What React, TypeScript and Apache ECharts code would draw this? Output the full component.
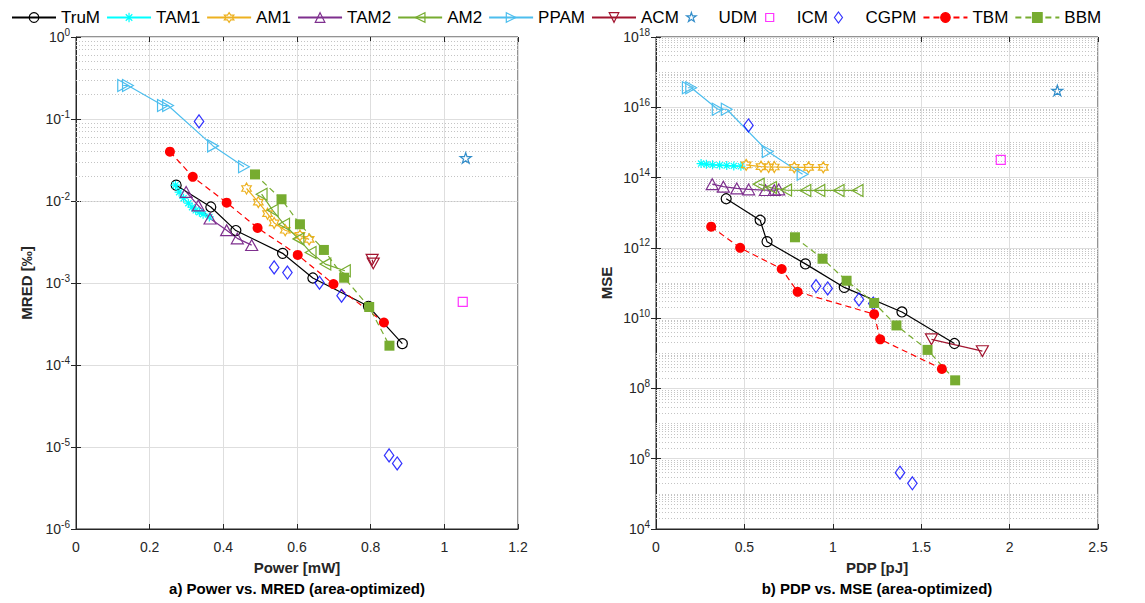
import React, { useEffect, useRef } from 'react';
import * as echarts from 'echarts';

const FONT = '"Liberation Sans", Arial, Helvetica, sans-serif';

// ---------- data: a) Power [mW] vs. MRED [‰] ----------
const trumA = [[0.272, 0.0156], [0.366, 0.00845], [0.434, 0.00436], [0.561, 0.0023], [0.643, 0.00115], [0.794, 0.00052], [0.886, 0.000182]];
const tam1A = [[0.270, 0.0156], [0.280, 0.0128], [0.292, 0.0108], [0.305, 0.0094], [0.315, 0.0084], [0.325, 0.0077], [0.335, 0.0073], [0.345, 0.0069], [0.362, 0.0064]];
const am1A = [[0.463, 0.0142], [0.495, 0.0097], [0.520, 0.0070], [0.538, 0.0054], [0.568, 0.0044], [0.608, 0.0038], [0.633, 0.0034]];
const tam2A = [[0.299, 0.0129], [0.332, 0.0088], [0.364, 0.0061], [0.409, 0.0044], [0.438, 0.0035], [0.477, 0.0029]];
const am2A = [[0.504, 0.0121], [0.534, 0.0077], [0.565, 0.0052], [0.604, 0.00345], [0.637, 0.00236], [0.677, 0.0017], [0.730, 0.00141]];
const ppamA = [[0.128, 0.256], [0.141, 0.256], [0.236, 0.146], [0.250, 0.146], [0.372, 0.047], [0.456, 0.0262]];
const acmA = [[0.804, 0.00192], [0.807, 0.00173]];
const udmA = [[1.058, 0.0335]];
const icmA = [[1.05, 0.00059]];
const cgpmA = [[0.334, 0.0935], [0.538, 0.00155], [0.574, 0.00134], [0.661, 0.00101], [0.721, 0.0007], [0.850, 7.9e-6], [0.872, 6.3e-6]];
const tbmA = [[0.255, 0.040], [0.317, 0.0197], [0.409, 0.00955], [0.493, 0.0047], [0.602, 0.0022], [0.699, 0.00097], [0.836, 0.00033]];
const bbmA = [[0.486, 0.0211], [0.558, 0.0105], [0.608, 0.0052], [0.673, 0.00253], [0.728, 0.00116], [0.796, 0.00051], [0.851, 0.000172]];

// ---------- data: b) PDP [pJ] vs. MSE ----------
const trumB = [[0.397, 2.5e13], [0.589, 6.1e12], [0.628, 1.5e12], [0.845, 3.5e11], [1.065, 7.5e10], [1.391, 1.5e10], [1.688, 1.9e9]];
const tam1B = [[0.255, 2.5e14], [0.285, 2.4e14], [0.320, 2.3e14], [0.360, 2.25e14], [0.400, 2.2e14], [0.440, 2.15e14], [0.480, 2.1e14]];
const am1B = [[0.51, 2.3e14], [0.594, 2.05e14], [0.637, 2.0e14], [0.669, 2.0e14], [0.782, 1.95e14], [0.863, 1.95e14], [0.946, 1.95e14]];
const tam2B = [[0.318, 6.5e13], [0.381, 5.5e13], [0.457, 4.9e13], [0.524, 4.6e13], [0.619, 4.4e13], [0.669, 4.4e13], [0.694, 4.6e13]];
const am2B = [[0.581, 6.5e13], [0.651, 5.2e13], [0.736, 4.4e13], [0.845, 4.3e13], [0.924, 4.3e13], [1.033, 4.3e13], [1.14, 4.3e13]];
const ppamB = [[0.18, 3.6e16], [0.199, 3.6e16], [0.349, 8.8e15], [0.40, 8.8e15], [0.632, 5.5e14], [0.829, 1.25e14]];
const acmB = [[1.558, 2.5e9], [1.846, 1.15e9]];
const udmB = [[2.27, 3.0e16]];
const icmB = [[1.95, 3.2e14]];
const cgpmB = [[0.523, 3.05e15], [0.905, 8.2e10], [0.971, 7.0e10], [1.148, 3.4e10], [1.229, 2.6e10], [1.38, 4e5], [1.45, 2e5]];
const tbmB = [[0.312, 4e12], [0.476, 1e12], [0.711, 2.5e11], [0.801, 5.6e10], [1.234, 1.3e10], [1.268, 2.5e9], [1.617, 3.6e8]];
const bbmB = [[0.786, 2e12], [0.942, 4.9e11], [1.078, 1.16e11], [1.234, 2.7e10], [1.36, 6.2e9], [1.536, 1.25e9], [1.692, 1.7e8]];

const methodNames = ['TruM', 'TAM1', 'AM1', 'TAM2', 'AM2', 'PPAM', 'ACM', 'UDM', 'ICM', 'CGPM', 'TBM', 'BBM'];
const dataA = [trumA, tam1A, am1A, tam2A, am2A, ppamA, acmA, udmA, icmA, cgpmA, tbmA, bbmA];
const dataB = [trumB, tam1B, am1B, tam2B, am2B, ppamB, acmB, udmB, icmB, cgpmB, tbmB, bbmB];

// ---------- marker shapes ----------
const ASTER = 'path://M5,0L5,10M0,5L10,5M1.6,1.6L8.4,8.4M8.4,1.6L1.6,8.4';
const HEXA = 'path://M5,0L6.443,2.5L9.33,2.5L7.887,5L9.33,7.5L6.443,7.5L5,10L3.557,7.5L0.67,7.5L2.113,5L0.67,2.5L3.557,2.5Z';
const TRI_U = 'path://M5,0L10,9L0,9Z';
const TRI_L = 'path://M0,5L9,0L9,10Z';
const TRI_R = 'path://M9,5L0,0L0,10Z';
const TRI_D = 'path://M0,0L10,0L5,9Z';
const PENTA_D = 'M5,0L6.123,3.455L9.755,3.455L6.817,5.59L7.939,9.045L5,6.91L2.061,9.045L3.183,5.59L0.245,3.455L3.877,3.455Z';
const SQUARE_D = 'M0,0L10,0L10,10L0,10Z';
const DIAMOND_D = 'M4,0L8,5.5L4,11L0,5.5Z';
const PENTA = 'path://' + PENTA_D;
const SQUARE = 'path://' + SQUARE_D;
const DIAMOND = 'path://' + DIAMOND_D;
// legend icons for marker-only entries (padded so they do not fill the icon box)
const legendIcons: Record<string, string> = {
  UDM: 'path://M-1,-1M11,11' + PENTA_D,
  ICM: 'path://M-2.5,-2.5M12.5,12.5' + SQUARE_D,
  CGPM: 'path://M4,-0.5M4,11.5' + DIAMOND_D,
};

type Sty = { color: string; symbol: string; size: number; fill: boolean; line: null | 'solid' | 'dashed' };
const STY: Record<string, Sty> = {
  TruM: { color: '#000000', symbol: 'circle', size: 10, fill: false, line: 'solid' },
  TAM1: { color: '#00FFFF', symbol: ASTER, size: 9, fill: false, line: 'solid' },
  AM1: { color: '#EDB120', symbol: HEXA, size: 11, fill: false, line: 'solid' },
  TAM2: { color: '#7E2F8E', symbol: TRI_U, size: 12, fill: false, line: 'solid' },
  AM2: { color: '#77AC30', symbol: TRI_L, size: 12, fill: false, line: 'solid' },
  PPAM: { color: '#4DBEEE', symbol: TRI_R, size: 12, fill: false, line: 'solid' },
  ACM: { color: '#A2142F', symbol: TRI_D, size: 12, fill: false, line: 'solid' },
  UDM: { color: '#0072BD', symbol: PENTA, size: 11, fill: false, line: null },
  ICM: { color: '#FF00FF', symbol: SQUARE, size: 9, fill: false, line: null },
  CGPM: { color: '#0000FF', symbol: DIAMOND, size: 13, fill: false, line: null },
  TBM: { color: '#FF0000', symbol: 'circle', size: 10, fill: true, line: 'dashed' },
  BBM: { color: '#77AC30', symbol: SQUARE, size: 10, fill: true, line: 'dashed' },
};

// minor log grid values
const minorA: number[] = [];
for (let e = -6; e < 0; e++) for (let k = 2; k <= 9; k++) minorA.push(k * Math.pow(10, e));
const minorB: number[] = [];
for (let e = 4; e < 18; e++) for (let k = 1; k <= 9; k++) if (!(k === 1 && e % 2 === 0)) minorB.push(k * Math.pow(10, e));

const AXC = '#262626';

function mkSeries(name: string, data: number[][], idx: number, minor: number[] | null) {
  const s = STY[name];
  const base: any = {
    name,
    xAxisIndex: idx,
    yAxisIndex: idx,
    data,
    symbol: s.symbol,
    symbolSize: s.size,
    symbolKeepAspect: true,
    color: s.color,
    itemStyle: s.fill
      ? { color: s.color, borderColor: s.color, borderWidth: 0 }
      : { color: 'rgba(255,255,255,0)', borderColor: s.color, borderWidth: 1.2 },
    z: 2,
    silent: true,
    animation: false,
  };
  if (minor) {
    base.markLine = {
      silent: true,
      symbol: ['none', 'none'],
      label: { show: false },
      lineStyle: { color: '#c4c4c4', type: [1, 2], width: 1 },
      emphasis: { disabled: true },
      z: 1,
      animation: false,
      data: minor.map((v) => ({ yAxis: v })),
    };
  }
  if (s.line) {
    return {
      ...base,
      type: 'line',
      showAllSymbol: true,
      lineStyle: { color: s.color, width: 1.2, type: s.line === 'dashed' ? [6, 4] : 'solid' },
    };
  }
  return { ...base, type: 'scatter' };
}

const supFmt = (v: number) => {
  const e = Math.round(Math.log10(v));
  return `{b|10}{s|${e}}`;
};
const supRich = {
  b: { fontSize: 14, color: AXC, lineHeight: 20, fontFamily: FONT },
  s: { fontSize: 10, color: AXC, lineHeight: 10, verticalAlign: 'top', fontFamily: FONT },
};

const tickStyle = { show: true, inside: true, length: 5, lineStyle: { color: AXC } };

function xAxisCfg(idx: number, max: number, interval: number, name: string) {
  return {
    type: 'value',
    gridIndex: idx,
    position: 'bottom',
    min: 0,
    max,
    interval,
    name,
    nameLocation: 'middle',
    nameGap: 31,
    nameTextStyle: { fontSize: 15, fontWeight: 'bold', color: AXC, fontFamily: FONT },
    axisLine: { show: true, lineStyle: { color: AXC, width: 1 } },
    axisTick: tickStyle,
    axisLabel: { fontSize: 14, color: AXC, fontFamily: FONT, margin: 11 },
    splitLine: { show: true, lineStyle: { color: '#dedede', width: 1 } },
  };
}
function xAxisTop(idx: number, max: number, interval: number) {
  return {
    type: 'value',
    gridIndex: idx,
    position: 'top',
    min: 0,
    max,
    interval,
    axisLine: { show: false },
    axisTick: tickStyle,
    axisLabel: { show: false },
    splitLine: { show: false },
  };
}

function yAxisCfg(idx: number, min: number, max: number, interval: number, name: string) {
  return {
    type: 'log',
    logBase: 10,
    gridIndex: idx,
    position: 'left',
    min,
    max,
    interval,
    name,
    nameLocation: 'middle',
    nameGap: 42,
    nameRotate: 90,
    nameTextStyle: { fontSize: 15, fontWeight: 'bold', color: AXC, fontFamily: FONT },
    axisLine: { show: true, lineStyle: { color: AXC, width: 1 } },
    axisTick: tickStyle,
    axisLabel: { formatter: supFmt, rich: supRich, margin: 6 },
    splitLine: { show: true, lineStyle: { color: '#dedede', width: 1 } },
  };
}
function yAxisRight(idx: number, min: number, max: number, interval: number) {
  return {
    type: 'log',
    logBase: 10,
    gridIndex: idx,
    position: 'right',
    min,
    max,
    interval,
    axisLine: { show: false },
    axisTick: tickStyle,
    axisLabel: { show: false },
    splitLine: { show: false },
  };
}

const seriesA = methodNames.map((n, i) => mkSeries(n, dataA[i], 0, i === 0 ? minorA : null));
const seriesB = methodNames.map((n, i) => mkSeries(n, dataB[i], 1, i === 0 ? minorB : null));

const option: any = {
  animation: false,
  backgroundColor: '#ffffff',
  textStyle: { fontFamily: FONT },
  legend: {
    data: methodNames.map((n) => (legendIcons[n] ? { name: n, icon: legendIcons[n] } : { name: n })),
    left: 6,
    top: 4,
    itemWidth: 44,
    itemHeight: 12,
    itemGap: 6,
    itemStyle: { borderWidth: 1.2 },
    textStyle: { fontSize: 17, color: '#000000', fontFamily: FONT },
    selectedMode: false,
  },
  grid: [
    { left: 76, top: 37, width: 442, height: 492, show: true, borderColor: AXC, borderWidth: 1, backgroundColor: '#ffffff', containLabel: false },
    { left: 656, top: 37, width: 442, height: 492, show: true, borderColor: AXC, borderWidth: 1, backgroundColor: '#ffffff', containLabel: false },
  ],
  xAxis: [
    xAxisCfg(0, 1.2, 0.2, 'Power [mW]'),
    xAxisCfg(1, 2.5, 0.5, 'PDP [pJ]'),
    xAxisTop(0, 1.2, 0.2),
    xAxisTop(1, 2.5, 0.5),
  ],
  yAxis: [
    yAxisCfg(0, 1e-6, 1, 1, 'MRED [‰]'),
    yAxisCfg(1, 1e4, 1e18, 2, 'MSE'),
    yAxisRight(0, 1e-6, 1, 1),
    yAxisRight(1, 1e4, 1e18, 2),
  ],
  graphic: [
    {
      type: 'text',
      x: 297,
      y: 588,
      style: {
        text: 'a) Power vs. MRED (area-optimized)',
        font: `bold 15px ${FONT}`,
        fill: '#000000',
        align: 'center',
        verticalAlign: 'middle',
        textAlign: 'center',
        textVerticalAlign: 'middle',
      },
    },
    {
      type: 'text',
      x: 877,
      y: 588,
      style: {
        text: 'b) PDP vs. MSE (area-optimized)',
        font: `bold 15px ${FONT}`,
        fill: '#000000',
        align: 'center',
        verticalAlign: 'middle',
        textAlign: 'center',
        textVerticalAlign: 'middle',
      },
    },
  ],
  series: [...seriesA, ...seriesB],
};

export default function App() {
  const ref = useRef<HTMLDivElement>(null);
  useEffect(() => {
    document.body.style.margin = '0';
    const chart = echarts.init(ref.current as HTMLDivElement, null, { renderer: 'svg', width: 1145, height: 603 });
    chart.setOption(option);
    return () => chart.dispose();
  }, []);
  return <div ref={ref} style={{ position: 'absolute', left: 0, top: 0, width: 1145, height: 603 }} />;
}
